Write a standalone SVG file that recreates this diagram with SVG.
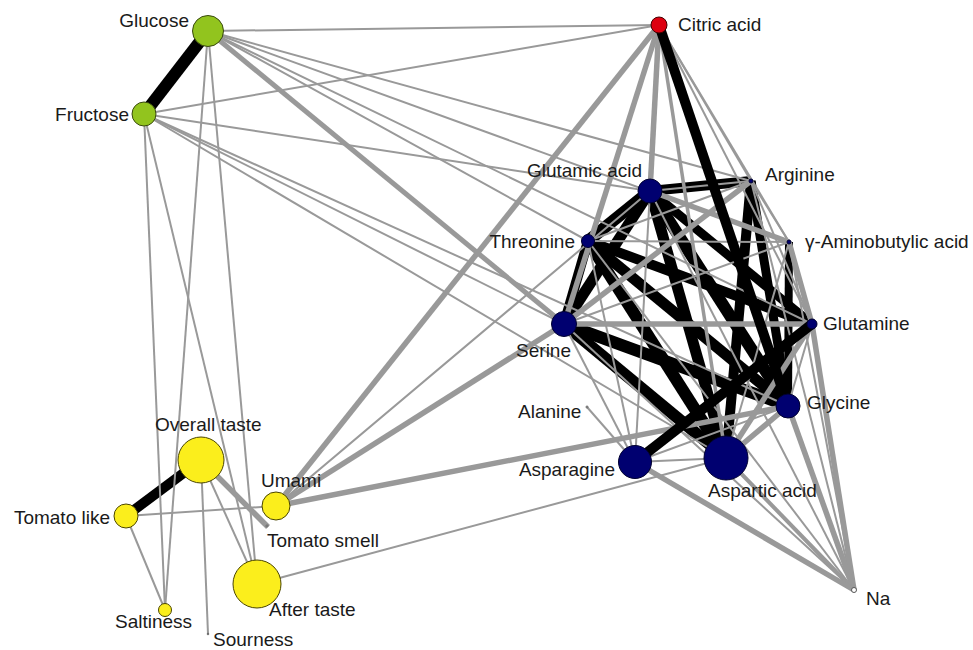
<svg xmlns="http://www.w3.org/2000/svg" width="973" height="650" viewBox="0 0 973 650">
<style>
.k{stroke:#000;fill:none;stroke-linecap:butt}
.g{stroke:#999;fill:none}
.t{stroke-width:2}
.m{stroke-width:3.5}
.w{stroke-width:5.5}
text{font-family:"Liberation Sans",Arial,sans-serif;font-size:19px;fill:#1a1a1a}
.gr{fill:#92c41e;stroke:#3a4a10;stroke-width:1}
.rd{fill:#dd0010;stroke:#400;stroke-width:1}
.bl{fill:#000070;stroke:#000030;stroke-width:1}
.ye{fill:#fbee1c;stroke:#4a4500;stroke-width:1}
.sm{fill:#fff;stroke:#555;stroke-width:1}
</style>
<rect width="973" height="650" fill="#fff"/>
<g id="connectors">
<g class="k">
<line x1="208" y1="31" x2="144" y2="114" stroke-width="12"/>
<line x1="126" y1="516" x2="201" y2="460" stroke-width="10"/>
<line x1="650" y1="191" x2="588" y2="241" stroke-width="12"/>
<line x1="588" y1="241" x2="564" y2="324" stroke-width="10"/>
<line x1="650" y1="191" x2="564" y2="324" stroke-width="11"/>
<line x1="650" y1="191" x2="751" y2="181" stroke-width="10"/>
<line x1="650" y1="191" x2="788" y2="406" stroke-width="12"/>
<line x1="650" y1="191" x2="726" y2="458" stroke-width="11"/>
<line x1="588" y1="241" x2="788" y2="406" stroke-width="11"/>
<line x1="588" y1="241" x2="726" y2="458" stroke-width="12"/>
<line x1="588" y1="241" x2="812" y2="324" stroke-width="10"/>
<line x1="564" y1="324" x2="788" y2="406" stroke-width="12"/>
<line x1="564" y1="324" x2="726" y2="458" stroke-width="12"/>
<line x1="751" y1="181" x2="726" y2="458" stroke-width="10"/>
<line x1="751" y1="181" x2="788" y2="406" stroke-width="9"/>
<line x1="789" y1="242" x2="788" y2="406" stroke-width="8"/>
<line x1="650" y1="191" x2="812" y2="324" stroke-width="9"/>
</g>
<g class="g t">
<line x1="208" y1="31" x2="659" y2="25"/>
<line x1="144" y1="114" x2="659" y2="25"/>
<line x1="208" y1="31" x2="751" y2="181"/>
<line x1="208" y1="31" x2="789" y2="242"/>
<line x1="208" y1="31" x2="588" y2="241"/>
<line x1="208" y1="31" x2="812" y2="324"/>
<line x1="144" y1="114" x2="650" y2="191"/>
<line x1="144" y1="114" x2="564" y2="324"/>
<line x1="144" y1="114" x2="788" y2="406"/>
<line x1="144" y1="114" x2="726" y2="458"/>
<line x1="208" y1="31" x2="165" y2="610"/>
<line x1="144" y1="114" x2="165" y2="610"/>
<line x1="208" y1="31" x2="257" y2="584"/>
<line x1="144" y1="114" x2="257" y2="584"/>
<line x1="201" y1="460" x2="208" y2="634"/>
<line x1="201" y1="460" x2="257" y2="584"/>
<line x1="126" y1="516" x2="276" y2="506"/>
<line x1="126" y1="516" x2="165" y2="610"/>
<line x1="257" y1="584" x2="726" y2="458"/>
<line x1="276" y1="506" x2="650" y2="191"/>
<line x1="659" y1="25" x2="751" y2="181"/>
<line x1="659" y1="25" x2="789" y2="242"/>
<line x1="659" y1="25" x2="812" y2="324"/>
<line x1="650" y1="191" x2="751" y2="181"/>
<line x1="588" y1="241" x2="789" y2="242"/>
<line x1="588" y1="241" x2="751" y2="181"/>
<line x1="650" y1="191" x2="635" y2="462"/>
<line x1="588" y1="241" x2="635" y2="462"/>
<line x1="564" y1="324" x2="635" y2="462"/>
<line x1="564" y1="324" x2="854" y2="590"/>
<line x1="588" y1="241" x2="854" y2="590"/>
<line x1="650" y1="191" x2="854" y2="590"/>
<line x1="751" y1="181" x2="812" y2="324"/>
<line x1="751" y1="181" x2="789" y2="242"/>
<line x1="564" y1="324" x2="789" y2="242"/>
<line x1="789" y1="242" x2="726" y2="458"/>
<line x1="751" y1="181" x2="854" y2="590"/>
<line x1="789" y1="242" x2="854" y2="590"/>
<line x1="587" y1="407" x2="635" y2="462"/>
<line x1="788" y1="406" x2="635" y2="462"/>
<line x1="635" y1="462" x2="726" y2="458"/>
<line x1="812" y1="324" x2="788" y2="406"/>
</g>
<g class="g w">
<line x1="208" y1="31" x2="564" y2="324" stroke-width="5"/>
<line x1="659" y1="25" x2="276" y2="506"/>
<line x1="659" y1="25" x2="564" y2="324"/>
<line x1="659" y1="25" x2="650" y2="191"/>
<line x1="650" y1="191" x2="789" y2="242"/>
<line x1="564" y1="324" x2="751" y2="181"/>
<line x1="564" y1="324" x2="812" y2="324"/>
<line x1="789" y1="242" x2="812" y2="324"/>
<line x1="812" y1="324" x2="854" y2="590"/>
<line x1="788" y1="406" x2="854" y2="590"/>
<line x1="726" y1="458" x2="854" y2="590" stroke-width="4"/>
<line x1="635" y1="462" x2="854" y2="590"/>
<line x1="276" y1="506" x2="564" y2="324"/>
<line x1="276" y1="506" x2="788" y2="406"/>
<line x1="788" y1="406" x2="726" y2="458"/>
<line x1="812" y1="324" x2="726" y2="458"/>
<line x1="201" y1="460" x2="268" y2="527"/>
</g>
<g class="g m">
<line x1="659" y1="25" x2="726" y2="458"/>
</g>
<g class="k">
<line x1="659" y1="25" x2="788" y2="406" stroke-width="10"/>
<line x1="635" y1="462" x2="812" y2="324" stroke-width="10"/>
</g>
</g>
<g id="n-glucose"><circle class="gr" cx="208" cy="31" r="15.5"/><text x="189" y="27" text-anchor="end">Glucose</text></g>
<g id="n-fructose"><circle class="gr" cx="144" cy="114" r="12"/><text x="129" y="121" text-anchor="end">Fructose</text></g>
<g id="n-citric"><circle class="rd" cx="659" cy="25" r="8"/><text x="678" y="31">Citric acid</text></g>
<g id="n-glutamic"><circle class="bl" cx="650" cy="191" r="12"/><text x="642" y="177" text-anchor="end">Glutamic acid</text></g>
<g id="n-arginine"><circle class="bl" cx="751" cy="181" r="2"/><text x="765" y="181">Arginine</text></g>
<g id="n-threonine"><circle class="bl" cx="588" cy="241" r="6.5"/><text x="575" y="248" text-anchor="end">Threonine</text></g>
<g id="n-gaba"><circle class="bl" cx="789" cy="242" r="2"/><text x="805" y="248">γ-Aminobutylic acid</text></g>
<g id="n-glutamine"><circle class="bl" cx="812" cy="324" r="5"/><text x="823" y="330">Glutamine</text></g>
<g id="n-serine"><circle class="bl" cx="564" cy="324" r="12.5"/><text x="571" y="357" text-anchor="end">Serine</text></g>
<g id="n-glycine"><circle class="bl" cx="788" cy="406" r="12"/><text x="807" y="409">Glycine</text></g>
<g id="n-alanine"><circle class="sm" cx="587" cy="407" r="1"/><text x="518" y="418">Alanine</text></g>
<g id="n-asparagine"><circle class="bl" cx="635" cy="462" r="16.5"/><text x="615" y="476" text-anchor="end">Asparagine</text></g>
<g id="n-aspartic"><circle class="bl" cx="726" cy="458" r="22"/><text x="708" y="497">Aspartic acid</text></g>
<g id="n-na"><circle class="sm" cx="854" cy="590" r="2.5"/><text x="866" y="605">Na</text></g>
<g id="n-overall"><circle class="ye" cx="201" cy="460" r="23"/><text x="155" y="431">Overall taste</text></g>
<g id="n-tomatolike"><circle class="ye" cx="126" cy="516" r="12"/><text x="110" y="524" text-anchor="end">Tomato like</text></g>
<g id="n-umami"><circle class="ye" cx="276" cy="506" r="14"/><text x="261" y="487">Umami</text></g>
<g id="n-tomatosmell"><circle class="sm" cx="267" cy="526" r="1"/><text x="267" y="547">Tomato smell</text></g>
<g id="n-aftertaste"><circle class="ye" cx="257" cy="584" r="24"/><text x="269" y="616">After taste</text></g>
<g id="n-saltiness"><circle class="ye" cx="165" cy="610" r="6.5"/><text x="115" y="628">Saltiness</text></g>
<g id="n-sourness"><circle class="sm" cx="208" cy="634" r="0.8"/><text x="213" y="646">Sourness</text></g>
</svg>
